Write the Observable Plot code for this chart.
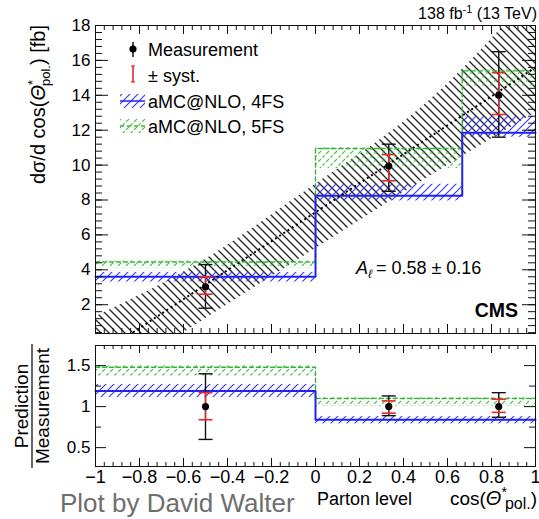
<!DOCTYPE html>
<html><head><meta charset="utf-8">
<script src="https://cdn.jsdelivr.net/npm/d3@7"></script>
<script src="https://cdn.jsdelivr.net/npm/@observablehq/plot@0.6"></script>
<style>
body{margin:0;background:#fff;}
#wrap{position:relative;width:539px;height:519px;overflow:hidden;font-family:"Liberation Sans",Arial,sans-serif;}
#top,#bot{position:absolute;left:0;}
#top{top:0;} #bot{top:338px;}
svg{overflow:visible}
</style></head><body>
<svg width="0" height="0" style="position:absolute;left:0;top:0">
<defs>
<pattern id="hatchBlack" patternUnits="userSpaceOnUse" width="8" height="8">
<path d="M-1,-1 L9,9 M-1,7 L1,9 M7,-1 L9,1" stroke="#222" stroke-width="1.3" fill="none"/>
</pattern>
<pattern id="hatchBlue" patternUnits="userSpaceOnUse" width="8" height="8">
<path d="M-1,9 L9,-1 M-1,1 L1,-1 M7,9 L9,7" stroke="#3b3bf0" stroke-width="1.2" fill="none"/>
</pattern>
<pattern id="hatchGreen" patternUnits="userSpaceOnUse" width="8" height="8">
<path d="M-1,9 L9,-1 M-1,1 L1,-1 M7,9 L9,7" stroke="#3fbf3f" stroke-width="1.2" stroke-dasharray="3,2" fill="none"/>
</pattern>
</defs>
</svg>
<div id="wrap"><div id="top"></div><div id="bot"></div></div>
<script>
// ---- data ----
const binLo = [-1, 0, 0.667];
const binHi = [0, 0.667, 1];
const binCenter = [-0.5, 0.333, 0.833];
const meas = [3.03, 9.95, 14.0];
const measTotLo = [1.8, 8.5, 11.6];
const measTotHi = [4.3, 11.2, 16.5];
const measSysLo = [2.6, 9.1, 12.9];
const measSysHi = [3.6, 10.6, 15.3];
const amc4 = [3.6, 8.25, 11.85];
const amc4Lo = [3.3, 7.95, 11.6];
const amc4Hi = [3.85, 8.9, 12.8];
const amc5 = [4.45, 10.95, 15.4];
const amc5Lo = [4.1, 9.8, 14.5];
const amc5Hi = [4.5, 11.0, 15.5];
const fitCos = [-1, -0.5, 0, 0.5, 1];
const fitVal = [-1.0, 3.15, 7.3, 11.45, 15.6];
const fitLo = [-2.9, 1.2, 5.2, 9.2, 13.0];
const fitHi = [1.3, 4.6, 8.9, 13.5, 20.0];

const ratioMeas = [1, 1, 1];
const ratioTotLo = [0.6, 0.89, 0.87];
const ratioTotHi = [1.4, 1.13, 1.17];
const ratioSysLo = [0.84, 0.92, 0.93];
const ratioSysHi = [1.17, 1.07, 1.09];
const ratio4 = [1.19, 0.84, 0.84];
const ratio4Lo = [1.11, 0.79, 0.79];
const ratio4Hi = [1.27, 0.88, 0.88];
const ratio5 = [1.48, 1.1, 1.1];
const ratio5Lo = [1.37, 1.0, 1.0];
const ratio5Hi = [1.5, 1.11, 1.11];

// ---- tick labels ----
const xMajor = [-1, -0.8, -0.6, -0.4, -0.2, 0, 0.2, 0.4, 0.6, 0.8, 1];
const xMinor = d3.range(-0.96, 0.97, 0.04);
const yTopMajor = [2, 4, 6, 8, 10, 12, 14, 16, 18];
const yTopMinor = d3.range(0.4, 17.9, 0.4);
const yBotMajor = [0.5, 1, 1.5];
const yBotMinor = [0.75, 1.25];

const fmt = d => d < 0 ? "\u2212" + Math.abs(d) : String(d);
const FONT = "'Liberation Sans', Arial, Helvetica, sans-serif";
const BLUE = "#2222ee", GREEN = "#33b533", RED = "#e8262b";
const W = 539, ML = 95, MR = 4;
const FW = W - ML - MR;

function steps(vals) {
  const pts = [];
  vals.forEach((v, i) => { pts.push({x: binLo[i], y: v}); pts.push({x: binHi[i], y: v}); });
  return pts;
}
const cap = w => ({draw(ctx) { ctx.moveTo(-w, 0); ctx.lineTo(w, 0); }});

function errMarks(xs, c, tl, th, sl, sh) {
  const rows = xs.map((x, i) => ({x, c: c[i], tl: tl[i], th: th[i], sl: sl[i], sh: sh[i]}));
  return [
    Plot.ruleX(rows, {x: "x", y1: "tl", y2: "th", stroke: "#111", strokeWidth: 1.4}),
    Plot.dot(rows, {x: "x", y: "tl", symbol: cap(7), r: 5, stroke: "#111", fill: "none", strokeWidth: 1.4}),
    Plot.dot(rows, {x: "x", y: "th", symbol: cap(7), r: 5, stroke: "#111", fill: "none", strokeWidth: 1.4}),
    Plot.ruleX(rows, {x: "x", y1: "sl", y2: "sh", stroke: RED, strokeWidth: 1.4}),
    Plot.dot(rows, {x: "x", y: "sl", symbol: cap(7), r: 5, stroke: RED, fill: "none", strokeWidth: 1.6}),
    Plot.dot(rows, {x: "x", y: "sh", symbol: cap(7), r: 5, stroke: RED, fill: "none", strokeWidth: 1.6}),
    Plot.dot(rows, {x: "x", y: "c", r: 3.6, fill: "#000", stroke: "none"})
  ];
}
function tickMarks(frameH, yMaj, yMin, yMajLen, yMinLen, xMajLen, xMinLen) {
  const s = {stroke: "#111", strokeWidth: 1};
  return [
    Plot.tickY(yMaj, {y: d => d, insetRight: FW - yMajLen, ...s}),
    Plot.tickY(yMin, {y: d => d, insetRight: FW - yMinLen, ...s}),
    Plot.tickY(yMaj, {y: d => d, insetLeft: FW - yMajLen, ...s}),
    Plot.tickY(yMin, {y: d => d, insetLeft: FW - yMinLen, ...s}),
    Plot.tickX(xMajor, {x: d => d, insetTop: frameH - xMajLen, ...s}),
    Plot.tickX(xMinor, {x: d => d, insetTop: frameH - xMinLen, ...s}),
    Plot.tickX(xMajor, {x: d => d, insetBottom: frameH - xMajLen, ...s}),
    Plot.tickX(xMinor, {x: d => d, insetBottom: frameH - xMinLen, ...s})
  ];
}

const bins = binLo.map((lo, i) => ({lo, hi: binHi[i], a4lo: amc4Lo[i], a4hi: amc4Hi[i], a5lo: amc5Lo[i], a5hi: amc5Hi[i],
  r4lo: ratio4Lo[i], r4hi: ratio4Hi[i], r5lo: ratio5Lo[i], r5hi: ratio5Hi[i]}));
const fit = fitCos.map((c, i) => ({c, v: fitVal[i], lo: fitLo[i], hi: fitHi[i]}));

// ---- top panel ----
const TOPH = 338, TMT = 25, TMB = 5;
const topPlot = Plot.plot({
  width: W, height: TOPH, marginLeft: ML, marginRight: MR, marginTop: TMT, marginBottom: TMB,
  style: {fontFamily: FONT, color: "#000", background: "transparent"},
  x: {domain: [-1, 1], axis: null},
  y: {domain: [0.35, 18]},
  marks: [
    Plot.areaY(fit, {x: "c", y1: "lo", y2: "hi", fill: "url(#hatchBlack)", curve: "natural", clip: true}),
    Plot.rect(bins, {x1: "lo", x2: "hi", y1: "a5lo", y2: "a5hi", fill: "url(#hatchGreen)"}),
    Plot.rect(bins, {x1: "lo", x2: "hi", y1: "a4lo", y2: "a4hi", fill: "url(#hatchBlue)"}),
    Plot.line(steps(amc5), {x: "x", y: "y", stroke: GREEN, strokeWidth: 1.4, strokeDasharray: "4,3"}),
    Plot.line(steps(amc4), {x: "x", y: "y", stroke: BLUE, strokeWidth: 2}),
    Plot.line(fit, {x: "c", y: "v", stroke: "#000", strokeWidth: 2, strokeDasharray: "2,3", strokeLinecap: "butt", clip: true}),
    ...errMarks(binCenter, meas, measTotLo, measTotHi, measSysLo, measSysHi),
    ...tickMarks(TOPH - TMT - TMB, yTopMajor, yTopMinor, 13, 7, 9, 5),
    Plot.frame({stroke: "#111", strokeWidth: 1}),
    Plot.axisY({ticks: yTopMajor, tickSize: 0, tickPadding: 5, fontSize: 17, label: null, tickFormat: fmt})
  ]
});
document.getElementById("top").appendChild(topPlot);

// ---- bottom (ratio) panel ----
const BOTH = 181, BMT = 7, BMB = 53;
const botPlot = Plot.plot({
  width: W, height: BOTH, marginLeft: ML, marginRight: MR, marginTop: BMT, marginBottom: BMB,
  style: {fontFamily: FONT, color: "#000", background: "transparent"},
  x: {domain: [-1, 1]},
  y: {domain: [0.27, 1.745]},
  marks: [
    Plot.rect(bins, {x1: "lo", x2: "hi", y1: "r5lo", y2: "r5hi", fill: "url(#hatchGreen)"}),
    Plot.rect(bins, {x1: "lo", x2: "hi", y1: "r4lo", y2: "r4hi", fill: "url(#hatchBlue)"}),
    Plot.line(steps(ratio5), {x: "x", y: "y", stroke: GREEN, strokeWidth: 1.4, strokeDasharray: "4,3"}),
    Plot.line(steps(ratio4), {x: "x", y: "y", stroke: BLUE, strokeWidth: 2}),
    ...errMarks(binCenter, ratioMeas, ratioTotLo, ratioTotHi, ratioSysLo, ratioSysHi),
    ...tickMarks(BOTH - BMT - BMB, yBotMajor, yBotMinor, 11, 6, 8, 4),
    Plot.frame({stroke: "#111", strokeWidth: 1}),
    Plot.axisY({ticks: yBotMajor, tickSize: 0, tickPadding: 5, fontSize: 17, label: null, tickFormat: fmt}),
    Plot.axisX({ticks: xMajor, tickSize: 0, tickPadding: 4, fontSize: 18, label: null, tickFormat: fmt})
  ]
});
document.getElementById("bot").appendChild(botPlot);

// ---- texts & legend ----
const ts = d3.select(topPlot);
const g = ts.append("g").attr("font-family", FONT).attr("fill", "#000").attr("text-anchor", "start");
const lumi = g.append("text").attr("x", 537).attr("y", 19).attr("text-anchor", "end").attr("font-size", 16);
lumi.append("tspan").text("138 fb");
lumi.append("tspan").attr("font-size", 11).attr("dy", -6).text("-1");
lumi.append("tspan").attr("dy", 6).text(" (13 TeV)");
g.append("text").attr("x", 518).attr("y", 317).attr("text-anchor", "end").attr("font-size", 19.5).attr("font-weight", "bold").text("CMS");
const at = g.append("text").attr("x", 356).attr("y", 274).attr("font-size", 18).attr("text-anchor", "start");
at.append("tspan").attr("font-style", "italic").text("A");
at.append("tspan").attr("font-size", 12).attr("dy", 4).attr("font-style", "italic").text("\u2113");
at.append("tspan").attr("dy", -4).attr("dx", 4).text("= 0.58 \u00b1 0.16");
const yt = g.append("text").attr("transform", "translate(45,25) rotate(-90)").attr("text-anchor", "end").attr("font-size", 20);
yt.append("tspan").text("d\u03c3/d cos(");
yt.append("tspan").attr("font-style", "italic").text("\u0398");
yt.append("tspan").attr("font-size", 13).attr("dy", -8).text("*");
yt.append("tspan").attr("font-size", 13).attr("dy", 13).attr("dx", -6).text("pol.");
yt.append("tspan").attr("dy", -5).text(") [fb]");
const lg = g.append("g");
lg.append("line").attr("x1", 133).attr("x2", 133).attr("y1", 42).attr("y2", 57).attr("stroke", "#000").attr("stroke-width", 1.4);
lg.append("circle").attr("cx", 133).attr("cy", 49).attr("r", 3.6).attr("fill", "#000");
lg.append("text").attr("x", 148).attr("y", 56).attr("font-size", 18).attr("text-anchor", "start").text("Measurement");
lg.append("line").attr("x1", 133).attr("x2", 133).attr("y1", 66).attr("y2", 82).attr("stroke", RED).attr("stroke-width", 1.6);
lg.append("line").attr("x1", 131).attr("x2", 135).attr("y1", 66).attr("y2", 66).attr("stroke", RED).attr("stroke-width", 1.2);
lg.append("line").attr("x1", 131).attr("x2", 135).attr("y1", 82).attr("y2", 82).attr("stroke", RED).attr("stroke-width", 1.2);
lg.append("text").attr("x", 148).attr("y", 82).attr("font-size", 18).attr("text-anchor", "start").text("\u00b1 syst.");
lg.append("rect").attr("x", 120).attr("y", 94).attr("width", 25).attr("height", 14).attr("fill", "url(#hatchBlue)");
lg.append("line").attr("x1", 120).attr("x2", 145).attr("y1", 101).attr("y2", 101).attr("stroke", BLUE).attr("stroke-width", 1.5);
lg.append("text").attr("x", 148).attr("y", 108).attr("font-size", 18).attr("text-anchor", "start").text("aMC@NLO, 4FS");
lg.append("rect").attr("x", 120).attr("y", 119).attr("width", 25).attr("height", 14).attr("fill", "url(#hatchGreen)");
lg.append("line").attr("x1", 120).attr("x2", 145).attr("y1", 126).attr("y2", 126).attr("stroke", GREEN).attr("stroke-width", 1.3).attr("stroke-dasharray", "4,3");
lg.append("text").attr("x", 148).attr("y", 133).attr("font-size", 18).attr("text-anchor", "start").text("aMC@NLO, 5FS");

const bs = d3.select(botPlot);
const gb = bs.append("g").attr("font-family", FONT).attr("fill", "#000").attr("text-anchor", "start");
const rt = gb.append("g").attr("transform", "translate(0,68) rotate(-90)");
rt.append("text").attr("x", 0).attr("y", 28).attr("text-anchor", "middle").attr("font-size", 19).text("Prediction");
rt.append("line").attr("x1", -62).attr("x2", 62).attr("y1", 32).attr("y2", 32).attr("stroke", "#000").attr("stroke-width", 1.2);
rt.append("text").attr("x", 0).attr("y", 49).attr("text-anchor", "middle").attr("font-size", 19).text("Measurement");
gb.append("text").attr("x", 317).attr("y", 167).attr("font-size", 18).text("Parton level");
const xt = gb.append("text").attr("x", 537).attr("y", 167).attr("text-anchor", "end").attr("font-size", 19);
xt.append("tspan").text("cos(");
xt.append("tspan").attr("font-style", "italic").attr("font-size", 20).text("\u0398");
xt.append("tspan").attr("font-size", 14).attr("dy", -8).text("*");
xt.append("tspan").attr("font-size", 16).attr("dy", 12).attr("dx", -2).text("pol.");
xt.append("tspan").attr("dy", -4).text(")");
gb.append("text").attr("x", 60).attr("y", 174).attr("font-size", 26).attr("fill", "#6e6e6e").text("Plot by David Walter");
</script>
</body></html>
